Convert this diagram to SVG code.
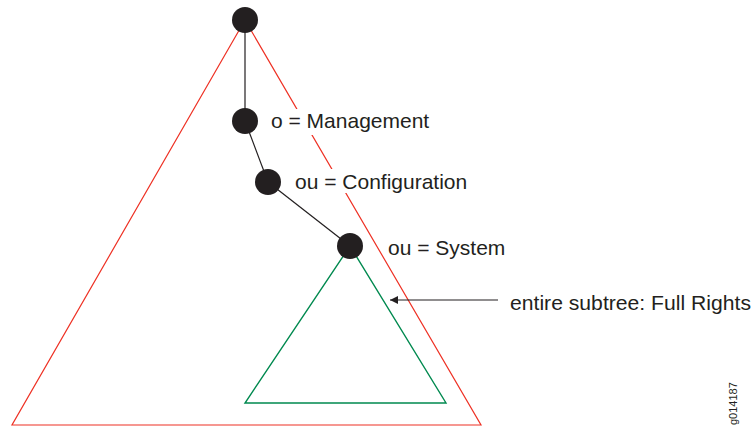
<svg xmlns="http://www.w3.org/2000/svg" width="754" height="426" viewBox="0 0 754 426">
  <defs>
    <style>
      .lbl { font-family: "Liberation Sans", Arial, sans-serif; font-size: 21px; fill: #231f20; }
      .fig { font-family: "Liberation Sans", Arial, sans-serif; font-size: 11px; fill: #231f20; }
      .node { fill: #231f20; }
      .edge { stroke: #231f20; stroke-width: 1.2; fill: none; }
      .scope { stroke: #ee3124; stroke-width: 1.2; fill: none; }
      .sub { stroke: #00894f; stroke-width: 1.4; fill: none; }
      .mask { fill: #ffffff; }
    </style>
    <marker id="arrow" viewBox="0 0 10 10" refX="10" refY="5" markerWidth="10" markerHeight="8" markerUnits="userSpaceOnUse" orient="auto">
      <path d="M0,0 L10,5 L0,10 Z" fill="#231f20"/>
    </marker>
  </defs>

  <!-- search scope of the whole tree -->
  <polygon class="scope" points="245,20 12,425 481,425"/>

  <!-- subtree below ou=System -->
  <polygon class="sub" points="350,246 245,403 446,403"/>

  <!-- label backgrounds -->
  <rect class="mask" x="268" y="109" width="166" height="26"/>
  <rect class="mask" x="292" y="169" width="180" height="24"/>

  <g id="connectors">
    <line class="edge" x1="245" y1="20" x2="245" y2="121"/>
    <line class="edge" x1="245" y1="121" x2="268" y2="182"/>
    <line class="edge" x1="268" y1="182" x2="350" y2="246"/>
    <line class="edge" x1="498" y1="300" x2="390" y2="300" marker-end="url(#arrow)"/>
  </g>

  <g id="root">
    <circle class="node" cx="245" cy="20" r="13"/>
  </g>
  <g id="management">
    <circle class="node" cx="245" cy="121" r="13"/>
    <text class="lbl" x="271" y="127.5">o = Management</text>
  </g>
  <g id="configuration">
    <circle class="node" cx="268" cy="182" r="13"/>
    <text class="lbl" x="295" y="188.5">ou = Configuration</text>
  </g>
  <g id="system">
    <circle class="node" cx="350" cy="246" r="13"/>
    <text class="lbl" x="388" y="254.5">ou = System</text>
  </g>
  <g id="subtree-note">
    <text class="lbl" x="510" y="310" textLength="241" lengthAdjust="spacingAndGlyphs">entire subtree: Full Rights</text>
  </g>

  <text class="fig" transform="translate(737,425) rotate(-90)">g014187</text>
</svg>
